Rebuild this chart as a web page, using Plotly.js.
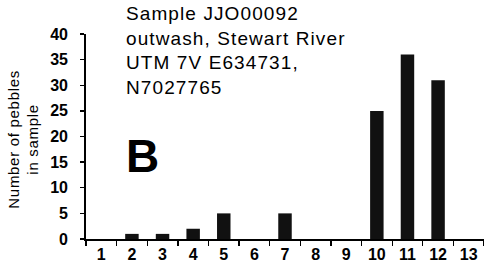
<!DOCTYPE html>
<html>
<head>
<meta charset="utf-8">
<script src="https://cdn.plot.ly/plotly-3.0.1.min.js"></script>
<style>html,body{margin:0;padding:0;background:#fff;}#chart{width:484px;height:266px;}</style>
</head>
<body>
<div id="chart"></div>
<script>
const categories = ['1','2','3','4','5','6','7','8','9','10','11','12','13'];
const pebbleCounts = [0, 1, 1, 2, 5, 0, 5, 0, 0, 25, 36, 31, 0];
const yTickValues = [0, 5, 10, 15, 20, 25, 30, 35, 40];
const sampleLines = ['Sample JJO00092', 'outwash, Stewart River', 'UTM 7V E634731,', 'N7027765'];
const panelLetter = 'B';
const yTitleLines = ['Number of pebbles', 'in sample'];

const font = 'Arial, "Liberation Sans", Helvetica, sans-serif';
function spaced(lines, px) {
  return lines.map(function (s) {
    return '<span style="letter-spacing:' + px + 'px">' + s + '</span>';
  }).join('<br>');
}

Plotly.newPlot('chart', [{
  type: 'bar',
  x: categories,
  y: pebbleCounts,
  marker: {color: '#111111', line: {width: 0}},
  width: 0.44,
  hoverinfo: 'skip'
}], {
  width: 484, height: 266,
  margin: {l: 86, r: 0, t: 34, b: 27, pad: 0},
  paper_bgcolor: '#ffffff', plot_bgcolor: '#ffffff',
  showlegend: false,
  font: {family: font, color: '#000'},
  xaxis: {
    type: 'category',
    tickson: 'boundaries',
    ticks: 'outside', ticklen: 5, tickwidth: 1.3, tickcolor: '#000',
    showline: true, linecolor: '#000', linewidth: 1.8,
    showgrid: false, zeroline: false,
    tickfont: {family: font, size: 16, color: '#000', weight: 'bold'},
    range: [-0.5, 12.5],
    fixedrange: true
  },
  yaxis: {
    range: [0, 40],
    tickvals: yTickValues,
    ticks: 'outside', ticklen: 4, tickwidth: 1.3, tickcolor: '#000',
    ticklabelstandoff: 9,
    showline: true, linecolor: '#000', linewidth: 1.8,
    showgrid: false, zeroline: false,
    tickfont: {family: font, size: 16, color: '#000', weight: 'bold'},
    fixedrange: true
  },
  annotations: [
    {
      text: spaced(sampleLines, 1.1), xref: 'paper', yref: 'paper',
      x: 0.095, y: 1.16, xanchor: 'left', yanchor: 'top', align: 'left',
      showarrow: false, font: {family: font, size: 19, color: '#000'}
    },
    {
      text: panelLetter, xref: 'paper', yref: 'paper',
      x: 0.095, y: 0.407, xanchor: 'left', yanchor: 'middle',
      showarrow: false, font: {family: font, size: 46, color: '#000', weight: 'bold'}
    },
    {
      text: spaced(yTitleLines, 0.7), xref: 'paper', yref: 'paper', textangle: -90,
      x: -0.158, y: 0.485, xanchor: 'center', yanchor: 'middle', align: 'center',
      showarrow: false, font: {family: font, size: 15, color: '#000'}
    }
  ]
}, {displayModeBar: false, staticPlot: true});
</script>
</body>
</html>
